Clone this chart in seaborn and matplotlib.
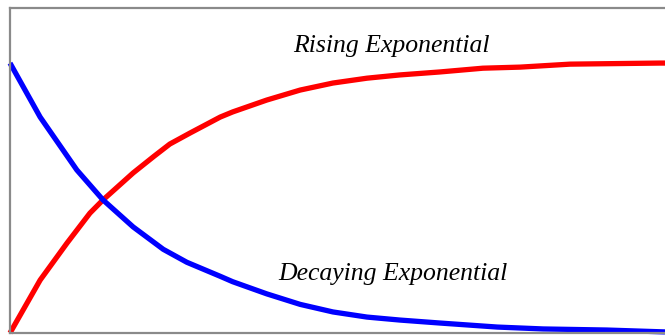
import pandas as pd
import numpy as np
import matplotlib
matplotlib.use('Agg')
import matplotlib.pyplot as plt
import seaborn as sns

# values (time in % of span, level as fraction of final value)
rise_t = [0, 4.6, 8.7, 12.2, 14.2, 18.8, 22.0, 24.4, 27.5, 32.1, 34.0, 39.2, 44.3,
          49.3, 54.5, 59.5, 65.6, 72.2, 77.9, 85.5, 99.2, 100]
rise_y = [0.0, 0.196, 0.333, 0.444, 0.493, 0.593, 0.655, 0.700, 0.741, 0.80, 0.819,
          0.863, 0.90, 0.926, 0.944, 0.956, 0.967, 0.981, 0.985, 0.996, 1.0, 1.0]

decay_t = [0, 4.6, 10.2, 14.2, 18.8, 23.4, 27.0, 32.1, 34.0, 39.2, 44.3, 49.3,
           54.5, 59.5, 65.6, 74.4, 81.4, 91.1, 100]
decay_y = [1.0, 0.80, 0.604, 0.493, 0.393, 0.310, 0.262, 0.210, 0.190, 0.145,
           0.106, 0.078, 0.059, 0.048, 0.037, 0.022, 0.015, 0.011, 0.004]

labels = ['Rising Exponential', 'Decaying Exponential']

df = pd.concat([
    pd.DataFrame({'t': rise_t, 'y': rise_y, 'curve': labels[0]}),
    pd.DataFrame({'t': decay_t, 'y': decay_y, 'curve': labels[1]}),
])

sns.set_style('white')

fig = plt.figure(figsize=(6.65, 3.35), dpi=100)
ax = fig.add_axes([10 / 665, 2 / 335, 655 / 665, 325 / 335])

sns.lineplot(data=df, x='t', y='y', hue='curve', sort=False, estimator=None,
             palette={labels[0]: '#ff0000', labels[1]: '#0000ff'},
             linewidth=3.8, legend=False, ax=ax)
for line in ax.get_lines():
    line.set_clip_on(False)
    line.set_solid_capstyle('butt')

ax.set_xlim(0, 100)
ax.set_ylim(0, 1.204)
ax.set_xticks([])
ax.set_yticks([])
ax.set_xlabel('')
ax.set_ylabel('')

for side in ['left', 'top', 'bottom']:
    ax.spines[side].set_color('#8a8a8a')
    ax.spines[side].set_linewidth(1.6)
ax.spines['right'].set_visible(False)

ax.text(58.3, 1.063, labels[0], ha='center', va='center', fontsize=18.5,
        fontstyle='italic', family='Liberation Serif', color='black')
ax.text(58.5, 0.218, labels[1], ha='center', va='center', fontsize=18.5,
        fontstyle='italic', family='Liberation Serif', color='black')

fig.savefig('out.png', dpi=100)
